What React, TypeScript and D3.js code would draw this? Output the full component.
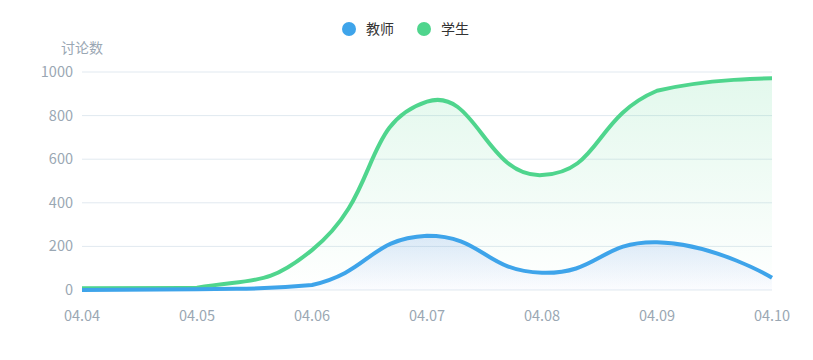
import React from "react";
import * as d3 from "d3";

const categories = ["04.04", "04.05", "04.06", "04.07", "04.08", "04.09", "04.10"];
const teacherValues = [0, 3, 23, 249, 79, 219, 56];
const studentValues = [8, 10, 183, 864, 527, 914, 971];
const yTicks = [0, 200, 400, 600, 800, 1000];
const seriesNames = ["教师", "学生"];
const yAxisName = "讨论数";

const W = 813;
const H = 360;
const M = { left: 82, right: 41, top: 72, bottom: 70 };
const BLUE = "#3ea4ea";
const GREEN = "#4fd58d";

type P = [number, number];

// ECharts-style smoothed path with bounding-box constraint
function smoothPath(points: P[], smooth = 0.5): string {
  const n = points.length;
  let minX = Infinity, minY = Infinity, maxX = -Infinity, maxY = -Infinity;
  points.forEach(([x, y]) => {
    minX = Math.min(minX, x); maxX = Math.max(maxX, x);
    minY = Math.min(minY, y); maxY = Math.max(maxY, y);
  });
  const clamp = (p: P): P => [
    Math.min(Math.max(p[0], minX), maxX),
    Math.min(Math.max(p[1], minY), maxY),
  ];
  const cps: P[] = [];
  for (let i = 0; i < n; i++) {
    const p = points[i];
    if (i === 0 || i === n - 1) {
      cps.push([p[0], p[1]]);
      continue;
    }
    const prev = points[i - 1];
    const next = points[i + 1];
    const vx = (next[0] - prev[0]) * smooth;
    const vy = (next[1] - prev[1]) * smooth;
    let d0 = Math.hypot(p[0] - prev[0], p[1] - prev[1]);
    let d1 = Math.hypot(p[0] - next[0], p[1] - next[1]);
    const s = d0 + d1;
    if (s !== 0) { d0 /= s; d1 /= s; }
    cps.push(clamp([p[0] - vx * d0, p[1] - vy * d0]));
    cps.push(clamp([p[0] + vx * d1, p[1] + vy * d1]));
  }
  let d = `M${points[0][0]},${points[0][1]}`;
  for (let i = 0; i < n - 1; i++) {
    const c1 = cps[i * 2];
    const c2 = cps[i * 2 + 1];
    const p = points[i + 1];
    d += `C${c1[0]},${c1[1]},${c2[0]},${c2[1]},${p[0]},${p[1]}`;
  }
  return d;
}

export default function App() {
  const x = d3
    .scalePoint<string>()
    .domain(categories)
    .range([M.left, W - M.right]);
  const y = d3.scaleLinear().domain([0, 1000]).range([H - M.bottom, M.top]);

  const mk = (vals: number[]): P[] =>
    categories.map((c, i) => [x(c) as number, y(vals[i])]);
  const tPts = mk(teacherValues);
  const sPts = mk(studentValues);
  const tLine = smoothPath(tPts);
  const sLine = smoothPath(sPts);
  const base = y(0);
  const area = (pts: P[], line: string) =>
    `${line}L${pts[pts.length - 1][0]},${base}L${pts[0][0]},${base}Z`;

  const axisColor = "#9aa7b3";
  const font = "'Microsoft YaHei', 'Noto Sans CJK SC', sans-serif";

  return (
    <svg
      width={W}
      height={H}
      style={{ position: "absolute", left: 0, top: 0, background: "#fff" }}
      fontFamily={font}
    >
      <defs>
        <linearGradient id="gGreen" x1="0" y1="0" x2="0" y2="1">
          <stop offset="0%" stopColor="#4fd58d" stopOpacity={0.16} />
          <stop offset="100%" stopColor="#4fd58d" stopOpacity={0} />
        </linearGradient>
        <linearGradient id="gBlue" x1="0" y1="0" x2="0" y2="1">
          <stop offset="0%" stopColor="#3b7be0" stopOpacity={0.16} />
          <stop offset="100%" stopColor="#3b7be0" stopOpacity={0.02} />
        </linearGradient>
      </defs>

      {/* legend */}
      <g fontSize={14} fill="#333">
        <circle cx={349} cy={29} r={7} fill={BLUE} />
        <text x={366} y={34}>{seriesNames[0]}</text>
        <circle cx={424} cy={29} r={7} fill={GREEN} />
        <text x={441} y={34}>{seriesNames[1]}</text>
      </g>

      {/* y axis name */}
      <text x={M.left} y={53} fontSize={14} fill={axisColor} textAnchor="middle">
        {yAxisName}
      </text>

      {/* grid + y labels */}
      {yTicks.map((t) => (
        <g key={t}>
          <line
            x1={M.left}
            x2={W - M.right}
            y1={y(t)}
            y2={y(t)}
            stroke="#e1e9f0"
            strokeWidth={1}
          />
          <text
            x={M.left - 9}
            y={y(t)}
            dy="0.35em"
            fontSize={14.5}
            fill={axisColor}
            textAnchor="end"
          >
            {t}
          </text>
        </g>
      ))}

      {/* x labels */}
      {categories.map((c) => (
        <text
          key={c}
          x={x(c) as number}
          y={321}
          fontSize={14.5}
          fill={axisColor}
          textAnchor="middle"
        >
          {c}
        </text>
      ))}

      {/* areas */}
      <path d={area(sPts, sLine)} fill="url(#gGreen)" />
      <path d={area(tPts, tLine)} fill="url(#gBlue)" />

      {/* lines */}
      <path d={sLine} fill="none" stroke={GREEN} strokeWidth={4} strokeLinejoin="round" />
      <path d={tLine} fill="none" stroke={BLUE} strokeWidth={4} strokeLinejoin="round" />
    </svg>
  );
}
